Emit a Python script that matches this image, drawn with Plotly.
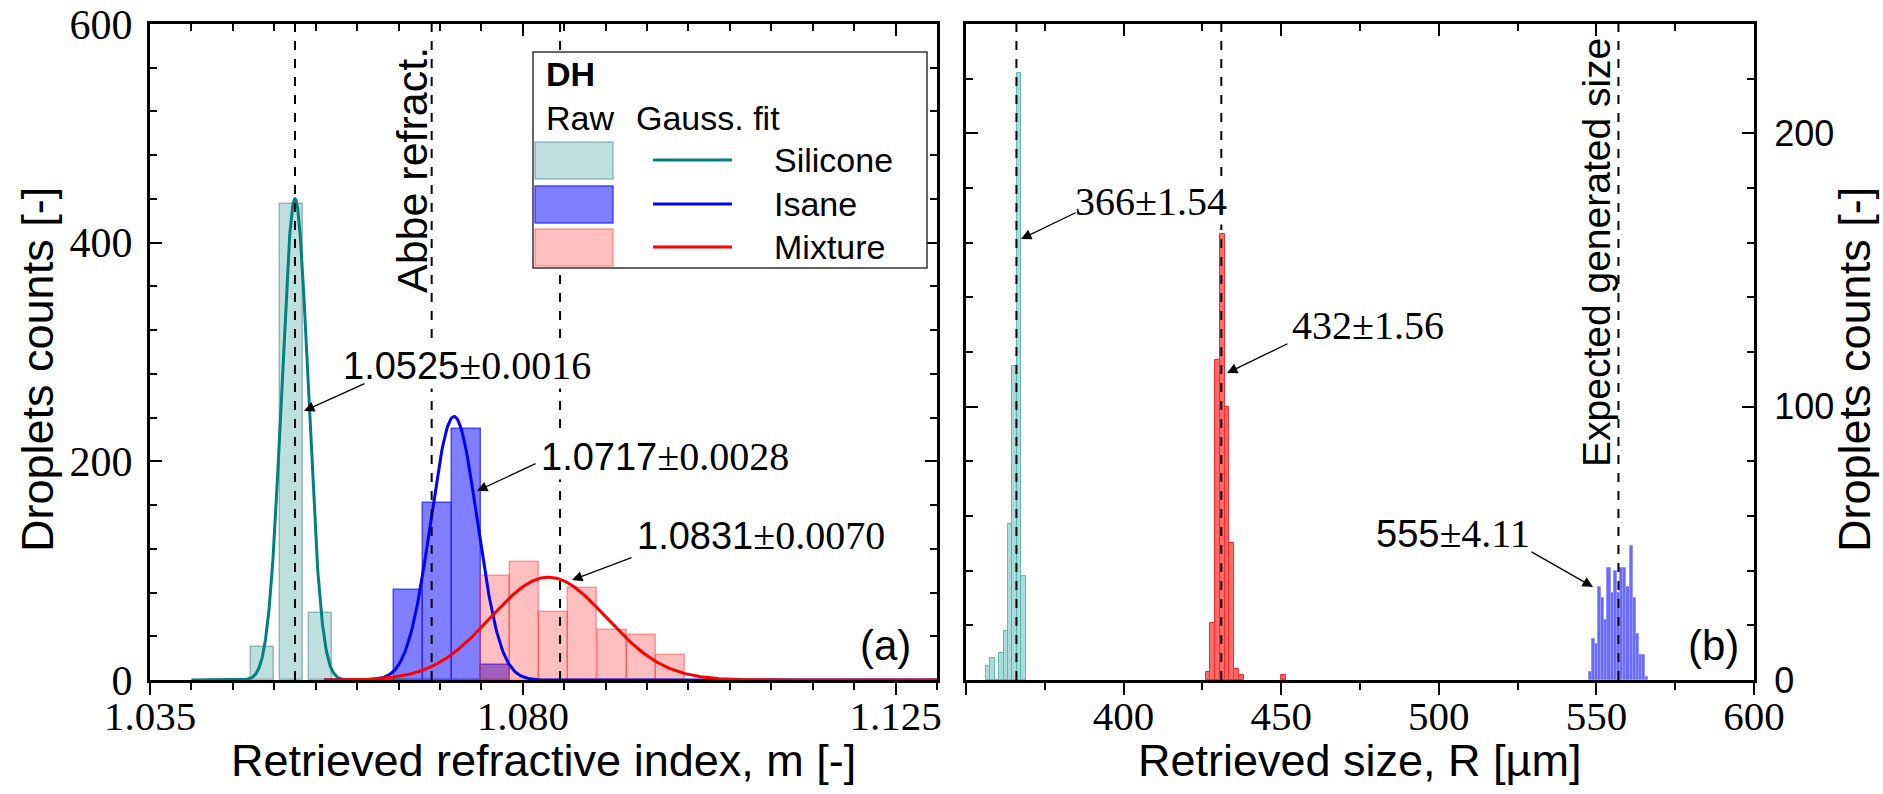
import numpy as np
import plotly.graph_objects as go

W, H = 1883, 794

# ---------------- Panel (a): retrieved refractive index ----------------
sil_m_centers = [1.0486, 1.0521, 1.0556]
sil_m_counts = [30, 435, 61]
isa_m_centers = [1.0662, 1.0697, 1.0732, 1.0767]
isa_m_counts = [82, 162, 230, 14]
mix_m_centers = [1.0767, 1.0802, 1.0837, 1.0872, 1.0908, 1.0943, 1.0978]
mix_m_counts = [95, 108, 62, 84, 46, 41, 23]

fit_names = ["Silicone", "Isane", "Mixture"]
fit_mean = [1.0525, 1.0717, 1.0831]
fit_sigma = [0.0016, 0.0028, 0.0070]
fit_peak = [440, 241, 94]
fit_lo = [1.040, 1.056, 1.056]
fit_hi = [1.066, 1.130, 1.130]

abbe_m = [1.0525, 1.0690, 1.0845]

m_tick_vals = [1.035, 1.080, 1.125]
m_tick_text = ["1.035", "1.080", "1.125"]
m_range = [1.035, 1.130]
count_a_range = [0, 600]

# ---------------- Panel (b): retrieved size ----------------
sil_r_centers = [357.0, 358.4, 359.8, 361.2, 362.6, 364.0, 365.4, 366.8, 368.2]
sil_r_counts = [5, 8, 0, 10, 18, 57, 115, 222, 38]
mix_r_centers = [426.8, 428.3, 429.8, 431.3, 432.8, 434.3, 435.8, 437.3, 450.8]
mix_r_counts = [3, 21, 117, 163, 100, 50, 4, 2, 2]
isa_r_centers = [548, 549, 550, 551, 552, 553, 554, 555, 556, 557,
                 558, 559, 560, 561, 562, 563, 564, 565, 566]
isa_r_counts = [3, 15, 13, 34, 30, 22, 41, 32, 40, 32,
                41, 41, 34, 49, 30, 17, 9, 9, 1]
expected_r = [366, 431, 557]

r_tick_vals = [350, 400, 450, 500, 550, 600]
r_tick_text = ["", "400", "450", "500", "550", "600"]
r_range = [350, 600]
count_b_range = [0, 240]

# ---------------- styles ----------------
SERIF = "Liberation Serif, Times New Roman, serif"
SANS = "Liberation Sans, Arial, sans-serif"
TEAL_FILL = "rgba(0,128,128,0.25)"
TEAL_EDGE = "rgba(60,120,120,0.45)"
BLUE_FILL = "rgba(0,0,255,0.5)"
BLUE_EDGE = "rgba(40,40,255,0.8)"
RED_FILL = "rgba(255,0,0,0.25)"
RED_EDGE = "rgba(255,60,60,0.45)"


def px(x):
    return x / W


def py(y):
    return 1 - y / H


fig = go.Figure()

# panel (a) bars
fig.add_trace(go.Bar(x=sil_m_centers, y=sil_m_counts, width=0.0028,
                     marker=dict(color=TEAL_FILL, line=dict(color=TEAL_EDGE, width=1.5)),
                     xaxis="x", yaxis="y", showlegend=False))
fig.add_trace(go.Bar(x=isa_m_centers, y=isa_m_counts, width=0.00351,
                     marker=dict(color=BLUE_FILL, line=dict(color=BLUE_EDGE, width=1.5)),
                     xaxis="x", yaxis="y", showlegend=False))
fig.add_trace(go.Bar(x=mix_m_centers, y=mix_m_counts, width=0.00351,
                     marker=dict(color=RED_FILL, line=dict(color=RED_EDGE, width=1.5)),
                     xaxis="x", yaxis="y", showlegend=False))

fit_colors = ["#008080", "#0000ff", "#ff0000"]
for name, mu, sg, pk, lo, hi, col in zip(fit_names, fit_mean, fit_sigma, fit_peak,
                                          fit_lo, fit_hi, fit_colors):
    xs = np.linspace(lo, hi, 600)
    ys = pk * np.exp(-0.5 * ((xs - mu) / sg) ** 2)
    fig.add_trace(go.Scatter(x=xs, y=ys, mode="lines", line=dict(color=col, width=3),
                             xaxis="x", yaxis="y", showlegend=False, name=name))

# panel (b) bars
fig.add_trace(go.Bar(x=sil_r_centers, y=sil_r_counts, width=1.4,
                     marker=dict(color="rgba(110,195,192,0.6)",
                                 line=dict(color="rgba(90,180,178,0.9)", width=1)),
                     xaxis="x2", yaxis="y2", showlegend=False))
fig.add_trace(go.Bar(x=mix_r_centers, y=mix_r_counts, width=1.5,
                     marker=dict(color="rgba(255,70,70,0.8)",
                                 line=dict(color="rgba(255,40,40,1)", width=1)),
                     xaxis="x2", yaxis="y2", showlegend=False))
fig.add_trace(go.Bar(x=isa_r_centers, y=isa_r_counts, width=1.0,
                     marker=dict(color="rgba(80,80,255,0.85)",
                                 line=dict(color="rgba(150,150,255,1)", width=1)),
                     xaxis="x2", yaxis="y2", showlegend=False))

# dummy traces to activate the top tick axes
fig.add_trace(go.Scatter(x=[None], y=[None], xaxis="x3", yaxis="y", showlegend=False))
fig.add_trace(go.Scatter(x=[None], y=[None], xaxis="x4", yaxis="y2", showlegend=False))

shapes = []
for v in abbe_m:
    shapes.append(dict(type="line", xref="x", yref="y domain", x0=v, x1=v, y0=0, y1=1,
                       line=dict(color="black", width=2, dash="dash")))
for v in expected_r:
    shapes.append(dict(type="line", xref="x2", yref="y2 domain", x0=v, x1=v, y0=0, y1=1,
                       line=dict(color="black", width=2, dash="dash")))

# custom legend box (pixel layout)
shapes.append(dict(type="rect", xref="paper", yref="paper", x0=px(533), x1=px(927),
                   y0=py(268), y1=py(52), fillcolor="white",
                   line=dict(color="#333333", width=1.5)))
legend_fill = [TEAL_FILL, BLUE_FILL, RED_FILL]
legend_edge = [TEAL_EDGE, BLUE_EDGE, RED_EDGE]
row_y = [160, 204, 247]
for yc, fc, ec, lc in zip(row_y, legend_fill, legend_edge, fit_colors):
    shapes.append(dict(type="rect", xref="paper", yref="paper", x0=px(535), x1=px(613),
                       y0=py(yc + 19), y1=py(yc - 18), fillcolor=fc,
                       line=dict(color=ec, width=1.5)))
    shapes.append(dict(type="line", xref="paper", yref="paper", x0=px(653), x1=px(732),
                       y0=py(yc), y1=py(yc), line=dict(color=lc, width=3)))

annotations = []


def txt(x, y, text, size, family=SANS, xanchor="left", yanchor="middle", angle=0, bg=None):
    d = dict(xref="paper", yref="paper", x=px(x), y=py(y), text=text, showarrow=False,
             font=dict(family=family, size=size, color="black"), xanchor=xanchor,
             yanchor=yanchor, textangle=angle, borderpad=0)
    if bg:
        d["bgcolor"] = bg
    annotations.append(d)


def arrow(head, tail):
    annotations.append(dict(xref="paper", yref="paper", x=px(head[0]), y=py(head[1]),
                            ax=tail[0] - head[0], ay=tail[1] - head[1], text="",
                            showarrow=True, arrowhead=2, arrowsize=1.6, arrowwidth=1.3,
                            arrowcolor="black", standoff=0, startstandoff=0))


# legend text
txt(545, 74, "<b>DH</b>", 34)
txt(545, 118, "Raw", 34)
txt(635, 118, "Gauss. fit", 34)
for yc, nm in zip(row_y, fit_names):
    txt(773, yc, nm, 34)


def mixed(num, err):
    return ("<span style='font-family:Liberation Sans, Arial;font-size:38px'>%s</span>"
            "\u00b1%s" % (num, err))


# fit annotations panel (a)
txt(342, 365, mixed("1.0525", "0.0016"), 40, family=SERIF, bg="white")
arrow((304, 411), (366, 383))
txt(540, 456, mixed("1.0717", "0.0028"), 40, family=SERIF, bg="white")
arrow((477, 491), (537, 463))
txt(636, 535, mixed("1.0831", "0.0070"), 40, family=SERIF, bg="white")
arrow((572, 580), (633, 557))

txt(412, 170, "Abbe refract.", 43, angle=-90, xanchor="center", yanchor="middle")
txt(885, 645, "(a)", 42, xanchor="center")

# panel (b)
txt(1074, 201, "366\u00b11.54", 40, family=SERIF, bg="white")
arrow((1021, 239), (1077, 212))
txt(1291, 325, "432\u00b11.56", 40, family=SERIF, bg="white")
arrow((1227, 373), (1289, 343))
txt(1375, 533, mixed("555", "4.11"), 40, family=SERIF, bg="white")
arrow((1593, 587), (1530, 551))
txt(1596, 253, "Expected generated size", 39, angle=-90, xanchor="center")
txt(1713, 645, "(b)", 42, xanchor="center")

# axis titles
txt(543, 760, "Retrieved refractive index, m [-]", 45, xanchor="center")
txt(1360, 760, "Retrieved size, R [\u00b5m]", 45, xanchor="center")
txt(38, 370, "Droplets counts [-]", 45, angle=-90, xanchor="center")
txt(1855, 370, "Droplets counts [-]", 45, angle=-90, xanchor="center")

dom_a = [px(150), px(937)]
dom_b = [px(966), px(1754)]
dom_y = [py(680), py(24)]

axis_common = dict(showline=True, linecolor="black", linewidth=3, showgrid=False,
                   zeroline=False, tickcolor="black", tickwidth=2, automargin=False)

fig.update_layout(
    width=W, height=H, margin=dict(l=0, r=0, t=0, b=0, autoexpand=False),
    paper_bgcolor="white", plot_bgcolor="white", barmode="overlay", bargap=0,
    showlegend=False,
    xaxis=dict(domain=dom_a, range=m_range, anchor="y", tickmode="array",
               tickvals=m_tick_vals, ticktext=m_tick_text, ticks="outside", ticklen=12,
               mirror=True, tickfont=dict(family=SERIF, size=41, color="black"),
               ticklabelstandoff=-14,
               minor=dict(tickmode="linear", tick0=1.035, dtick=0.005, ticks="outside",
                          ticklen=7, tickwidth=2, tickcolor="black"),
               **axis_common),
    yaxis=dict(domain=dom_y, range=count_a_range, anchor="x", tickmode="linear",
               tick0=0, dtick=200, ticks="inside", ticklen=12, mirror="ticks",
               tickfont=dict(family=SERIF, size=42, color="black"), ticklabelstandoff=6,
               minor=dict(tickmode="linear", tick0=0, dtick=40, ticks="inside",
                          ticklen=7, tickwidth=2, tickcolor="black"),
               **axis_common),
    xaxis2=dict(domain=dom_b, range=r_range, anchor="y2", tickmode="array",
                tickvals=r_tick_vals, ticktext=r_tick_text, ticks="outside", ticklen=12,
                mirror=True, tickfont=dict(family=SERIF, size=41, color="black"),
                ticklabelstandoff=-14,
                minor=dict(tickmode="linear", tick0=350, dtick=25, ticks="outside",
                           ticklen=7, tickwidth=2, tickcolor="black"),
                **axis_common),
    yaxis2=dict(domain=dom_y, range=count_b_range, anchor="x2", side="right",
                tickmode="linear", tick0=0, dtick=100, ticks="inside", ticklen=12,
                mirror="ticks", tickfont=dict(family=SANS, size=36, color="black"),
                ticklabelstandoff=10,
                minor=dict(tickmode="linear", tick0=0, dtick=20, ticks="inside",
                           ticklen=7, tickwidth=2, tickcolor="black"),
                **axis_common),
    xaxis3=dict(overlaying="x", side="top", anchor="y", range=m_range, tickmode="array",
                tickvals=m_tick_vals, ticks="inside", ticklen=12, tickwidth=2,
                tickcolor="black", showticklabels=False, showline=False, showgrid=False,
                zeroline=False, automargin=False,
                minor=dict(tickmode="linear", tick0=1.035, dtick=0.005, ticks="inside",
                           ticklen=7, tickwidth=2, tickcolor="black")),
    xaxis4=dict(overlaying="x2", side="top", anchor="y2", range=r_range, tickmode="array",
                tickvals=r_tick_vals, ticks="inside", ticklen=12, tickwidth=2,
                tickcolor="black", showticklabels=False, showline=False, showgrid=False,
                zeroline=False, automargin=False,
                minor=dict(tickmode="linear", tick0=350, dtick=25, ticks="inside",
                           ticklen=7, tickwidth=2, tickcolor="black")),
    shapes=shapes,
    annotations=annotations,
)

fig.write_html("out.html", config={"displayModeBar": False},
               post_script="document.body.style.margin='0px';")
